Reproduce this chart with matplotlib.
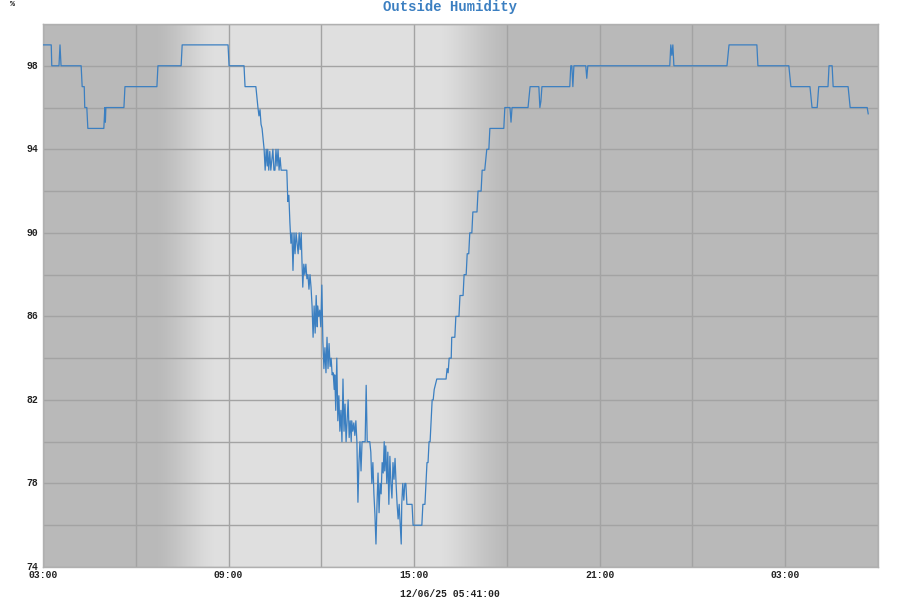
import matplotlib
matplotlib.use('Agg')
import matplotlib.pyplot as plt
import numpy as np

# ---- data (minutes since 03:00 on 12/05, outside humidity %) ----
minutes = [0, 16, 17, 31, 33, 35, 74, 76, 80, 81, 85, 87, 118, 120, 121, 122, 157, 159,
           221, 223, 268, 270, 359, 361, 390, 392, 413,
           415, 417, 419, 421, 423, 425, 427, 429, 431, 433, 435, 436, 438, 440, 442, 444,
           446, 448, 450, 452, 454, 456, 458, 460, 462, 464, 473, 475, 477, 479, 481, 483,
           485, 487, 489, 491, 493, 495, 497, 499, 501, 502, 504, 506, 508, 510, 512, 514,
           516, 518, 520, 522, 524, 526, 528, 530, 532, 533, 535, 537, 539, 541, 543, 545,
           547, 549, 551, 553, 555, 557, 559, 561, 563, 565, 566, 568, 570, 572, 574, 576,
           578, 580, 582, 584, 586, 588, 590, 592, 594, 596, 598, 599, 601, 603, 605, 607,
           609, 611, 613, 615, 617, 619, 621, 623, 625, 627, 629, 634, 636, 638, 640, 642,
           644, 646, 648, 650, 652, 654, 656, 658, 660, 662, 663, 665, 667, 669, 671, 673,
           675, 677, 679, 681, 683, 685, 687, 689, 691, 693, 695, 696, 698, 700, 702, 704,
           706, 716, 718, 735, 737, 741, 743, 745, 747, 749, 751, 753, 755, 757, 759, 764,
           782, 784, 786, 788, 792, 793, 799, 801, 807, 809, 815, 817, 821, 823, 826, 828,
           832, 834, 842, 844, 850, 852, 857, 859, 861, 865, 867, 894, 896, 906, 908, 910,
           941, 945, 962, 964, 966, 968, 1022, 1024, 1026, 1028, 1030, 1053, 1055, 1057,
           1216, 1218, 1220, 1222, 1224, 1327, 1331, 1385, 1387, 1447, 1451, 1488, 1492,
           1502, 1505, 1523, 1525, 1531, 1533, 1562, 1566, 1599, 1601]
humidity = [99, 99, 98, 98, 99, 98, 98, 97, 97, 96, 96, 95, 95, 96, 95.3, 96, 96, 97,
            97, 98, 98, 99, 99, 98, 98, 97, 97,
            96.5, 96, 95.6, 95.9, 95.2, 95, 94.5, 94, 93, 94, 93.2, 94, 93, 93.9, 93, 93.5,
            94, 93, 93, 94, 93.2, 94, 93, 93.6, 93, 93, 93, 91.5, 91.8, 90.5, 89.5, 90,
            88.2, 90, 89, 90, 89.5, 89, 90, 89.2, 90, 89, 87.4, 88.5, 88, 88.5, 87.8, 88,
            87.3, 88, 87.4, 86.5, 85, 86.5, 85.2, 87, 85.5, 86.5, 86, 86.3, 85.5, 87.5, 84.8, 83.5,
            84.5, 83.3, 85, 83.5, 84.7, 83.6, 84, 83.2, 83.3, 82.5, 83.2, 81.5, 84, 81, 82.2, 80.5,
            81.5, 80, 83, 80.5, 81.8, 80, 81, 82, 80.2, 81, 80, 81, 80.5, 80.9, 80.3, 81,
            80, 77.1, 79, 80, 78.6, 80, 80, 80, 80, 82.7, 80, 80, 79.5, 78, 79, 77.5,
            76.5, 75.1, 77, 78.5, 76.6, 78, 77.5, 79, 78.5, 80, 78.6, 79.8, 78, 79.5, 77, 79.3,
            78, 77.3, 79, 78.2, 79.2, 78, 77, 76.3, 77, 76, 75.1, 77, 78, 77.2, 78, 78,
            77, 77, 76, 76, 77, 77, 78, 79, 79, 80, 80, 81, 82, 82, 82.5, 83,
            83, 83.5, 83.3, 84, 84, 85, 85, 86, 86, 87, 87, 88, 88, 89, 89, 90,
            90, 91, 91, 92, 92, 93, 93, 93.5, 94, 94, 95, 95, 96, 96, 95.3, 96,
            96, 97, 97, 96, 96.3, 97, 97, 98, 98, 97, 98, 98, 97.4, 98,
            98, 99, 98.5, 99, 98, 98, 99, 99, 98, 98, 97, 97, 96,
            96, 97, 97, 98, 98, 97, 97, 96, 96, 95.7]

y_tick_values = [74, 78, 82, 86, 90, 94, 98]
x_tick_hours = [3, 9, 15, 21, 27]
x_tick_labels = ['03:00', '09:00', '15:00', '21:00', '03:00']
title_text = 'Outside Humidity'
footer_text = '12/06/25 05:41:00'
unit_text = '%'

# ---- style ----
FONT = ['Liberation Mono', 'DejaVu Sans Mono']
DARK = 0.729
LIGHT = 0.878
LINE_COLOR = '#3b7fc1'
GRID_COLOR = '#a3a3a3'

hours = 3 + np.array(minutes, dtype=float) / 60.0

fig = plt.figure(figsize=(9, 6), dpi=100)
ax = fig.add_axes([43 / 900, 33 / 600, 835 / 900, 543 / 600])
ax.set_xlim(3, 30)
ax.set_ylim(74, 100)


def ramp(t, a, b):
    s = np.clip((t - a) / (b - a), 0, 1)
    return 0.5 * s + 0.5 * s * s * (3 - 2 * s)


tt = np.linspace(3, 30, 2000)
frac = ramp(tt, 6.7, 8.6) * (1 - ramp(tt, 15.8, 18.0))
shade = DARK + (LIGHT - DARK) * frac
img = np.repeat(shade[None, :, None], 3, axis=2)
ax.imshow(img, extent=[3, 30, 74, 100], aspect='auto', zorder=0, interpolation='bilinear')

for h in range(3, 31, 3):
    ax.axvline(h, color=GRID_COLOR, lw=1.0, zorder=1)
for v in range(74, 101, 2):
    ax.axhline(v, color=GRID_COLOR, lw=1.0, zorder=1)

ax.plot(hours, humidity, color=LINE_COLOR, lw=0.9, zorder=3)

ax.set_xticks([])
ax.set_yticks([])
for s in ax.spines.values():
    s.set_color('#b0b0b0')
    s.set_linewidth(1.0)

for h, lab in zip(x_tick_hours, x_tick_labels):
    ax.text(h, -0.006, lab, transform=ax.get_xaxis_transform(), ha='center', va='top',
            fontsize=7, family=FONT, weight='bold', color='#222222')
for v in y_tick_values:
    ax.text(-0.006, v, str(v), transform=ax.get_yaxis_transform(), ha='right', va='center',
            fontsize=7, family=FONT, weight='bold', color='#222222')

fig.text(450 / 900, 1 - 7 / 600, title_text, ha='center', va='center', fontsize=10,
         family=FONT, weight='bold', color=LINE_COLOR)
fig.text(12 / 900, 1 - 5 / 600, unit_text, ha='center', va='center', fontsize=6,
         family=FONT, weight='bold', color='#222222')
fig.text(450 / 900, 1 - 594 / 600, footer_text, ha='center', va='center', fontsize=7,
         family=FONT, weight='bold', color='#222222')

fig.savefig('out.png', dpi=100)
